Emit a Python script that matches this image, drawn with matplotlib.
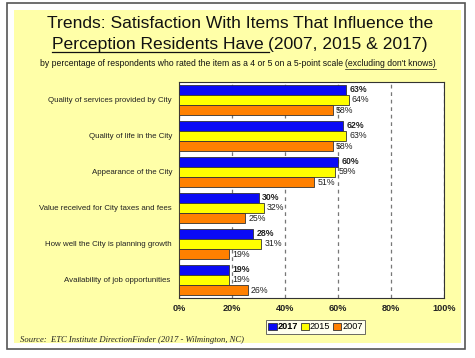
import numpy as np
import matplotlib.pyplot as plt
from matplotlib.patches import Rectangle
from matplotlib.lines import Line2D

categories = ["Quality of services provided by City",
              "Quality of life in the City",
              "Appearance of the City",
              "Value received for City taxes and fees",
              "How well the City is planning growth",
              "Availability of job opportunities "]
years = ["2017", "2015", "2007"]
v2017 = [63, 62, 60, 30, 28, 19]
v2015 = [64, 63, 59, 32, 31, 19]
v2007 = [58, 58, 51, 25, 19, 26]
xticks = [0, 20, 40, 60, 80, 100]

W, H = 475, 358
plt.rcParams['font.family'] = ['Liberation Sans', 'DejaVu Sans']

def fx(x):
    return x / W

def fy(y):
    return 1 - y / H

fig = plt.figure(figsize=(W / 100, H / 100), dpi=100)
fig.patch.set_facecolor('white')

# frame + yellow panel
fig.patches.append(Rectangle((fx(7), fy(349)), fx(465) - fx(7), fy(3) - fy(349),
                             transform=fig.transFigure, facecolor='white',
                             edgecolor='#555555', lw=1.2, zorder=0))
fig.patches.append(Rectangle((fx(14), fy(343)), fx(461) - fx(14), fy(10) - fy(343),
                             transform=fig.transFigure, facecolor='#FFFFA8',
                             edgecolor='none', zorder=0))

ax = fig.add_axes([fx(179), fy(298), fx(444) - fx(179), fy(82) - fy(298)])
ax.set_zorder(2)
ax.set_facecolor('white')

y = np.arange(len(categories))
h = 0.28
colors = ['#0A0AF5', '#FFFF00', '#FF8000']
series = [v2017, v2015, v2007]
for i, (vals, c) in enumerate(zip(series, colors)):
    pos = y + (i - 1) * h
    ax.barh(pos, vals, height=h, color=c, edgecolor='#333333', lw=0.6, zorder=3,
            label=years[i])
    for p, v in zip(pos, vals):
        ax.text(v + 1.2, p, f"{v}%", va='center', ha='left', fontsize=6.3,
                fontweight='bold' if i == 0 else 'normal', color='#222222', zorder=4)

ax.set_xlim(0, 100)
ax.set_ylim(len(categories) - 0.5, -0.5)
ax.set_yticks(y)
ax.set_yticklabels(categories, fontsize=5.7, color='#222222')
ax.set_xticks(xticks)
ax.set_xticklabels([f"{t}%" for t in xticks], fontsize=6.6, fontweight='bold', color='#222222')
ax.tick_params(axis='x', length=0, pad=4.5)
ax.tick_params(axis='y', length=0, pad=5)
ax.grid(axis='x', color='#777777', ls=(0, (3, 3)), lw=0.9, zorder=1)
for s in ax.spines.values():
    s.set_color('#333333')
    s.set_linewidth(0.8)

leg = ax.legend(loc='upper center', bbox_to_anchor=(0.515, -0.1), ncol=3,
                fontsize=6.6, frameon=True, fancybox=False, edgecolor='#444444',
                handlelength=0.9, handleheight=0.8, handletextpad=0.1,
                columnspacing=0.3, borderpad=0.3, borderaxespad=0)
leg.get_frame().set_linewidth(0.7)
leg.get_texts()[0].set_fontweight('bold')

# titles
fig.text(fx(240), fy(24), "Trends: Satisfaction With Items That Influence the",
         ha='center', va='center', fontsize=12.6, color='#111111')

renderer = fig.canvas.get_renderer()

def underlined_line(parts, ypx, size, cx):
    texts = [fig.text(0, fy(ypx), s, ha='left', va='center', fontsize=size,
                      color='#111111') for s, _ in parts]
    widths = [t.get_window_extent(renderer).width for t in texts]
    x = cx - sum(widths) / 2
    for t, w, (s, ul) in zip(texts, widths, parts):
        t.set_x(fx(x))
        if ul:
            bb = t.get_window_extent(renderer)
            yl = bb.y0 - 0.5
            fig.add_artist(Line2D([bb.x0 / W, (bb.x0 + w) / W], [yl / H, yl / H],
                                  transform=fig.transFigure, color='#111111',
                                  lw=0.9 if size > 8 else 0.5))
        x += w

underlined_line([("Perception Residents Have ", True), ("(2007, 2015 & 2017)", False)],
                44, 12.6, 240)
underlined_line([("by percentage of respondents who rated the item as a 4 or 5 on a 5-point scale ", False),
                 ("(excluding don't knows)", True)], 64, 6.2, 238)

fig.text(fx(20), fy(340), "Source:  ETC Institute DirectionFinder (2017 - Wilmington, NC)",
         ha='left', va='center', fontsize=6.2, style='italic',
         family=['Liberation Serif', 'DejaVu Serif'], color='#222222')

fig.savefig('out.png', dpi=100)
